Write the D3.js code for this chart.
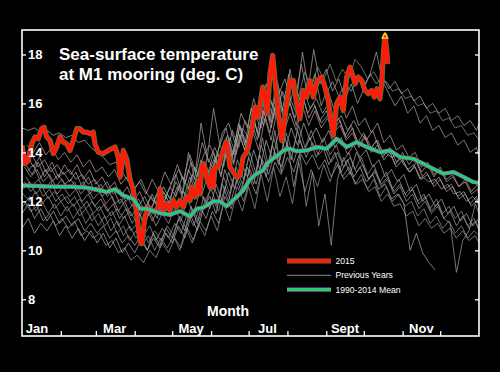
<!doctype html>
<meta charset="utf-8">
<style>
  body { margin: 0; background: #000; }
  svg { display: block; background: #000; font-family: "Liberation Sans", Arial, sans-serif; }
  .frame { fill: none; stroke: #fff; stroke-width: 1.6; }
  .axis path { display: none; }
  .axis line { stroke: #fff; stroke-width: 1.3; }
  .axis text { fill: #fff; font-size: 13px; font-weight: bold; font-family: "Liberation Sans", Arial, sans-serif; }
  .prev { fill: none; stroke-width: 0.75; }
  .title { fill: #fff; font-size: 17px; font-weight: bold; }
  .leg { fill: #fff; font-size: 8.6px; }
</style>

<svg id="chart" width="500" height="372"></svg>

<script src="https://cdn.jsdelivr.net/npm/d3@7"></script>
<script>
// ---- data ----
const yTicks = [8, 10, 12, 14, 16, 18];
const monthStarts = [0, 31, 59, 90, 120, 151, 181, 212, 243, 273, 304, 334];
const monthLabels = ["Jan", "Mar", "May", "Jul", "Sept", "Nov"];
const monthLabelDays = [12, 74, 135, 196, 258, 319];

// 2015 daily-ish trace (day of year, deg C)
const days2015 = [0,2.4,5,7.7,10.4,13,15.7,17.6,19.7,22.4,25,27.7,30.3,33,35.7,38.3,41,43.7,46.3,49,
  51.7,54.3,56.9,58.3,60.9,64.9,68.9,71.6,74.3,76.9,78.3,79.6,80.9,83.6,86.3,88.9,91.6,94.2,95.6,98.2,
  100.9,103.6,106.2,108.9,110.2,111.6,112.9,115.6,118.2,120.8,123.6,126.2,128.8,131.5,134.2,135.5,138.2,140.8,142.2,143.5,
  145.4,147.5,150.2,151.5,152.8,154.1,156.8,158.1,160.8,162.9,164.8,166.1,168.8,171.5,174.1,176.7,179.5,180.7,183.5,186.1,
  188.7,192.2,194.1,195.9,198.1,200.2,202.1,204.7,207.4,208.7,211.4,214,216.7,219.4,222,224.7,227.4,230,232.7,235.8,
  239.4,242,244.6,246.8,248.6,251.3,254,256.6,259.3,262,263.8,266,268.6,271.3,273.9,276.6,279.3,281.4,283.5,285.9,
  287.3,288.6,289.9,291.3,292.1];
const temp2015 = [14.29,13.54,13.67,14.35,14.63,14.56,14.97,15.03,14.63,14.49,13.95,14.22,14.63,14.42,14.35,14.08,14.49,14.97,14.97,14.83,
  14.83,14.76,14.83,14.35,14.01,13.95,14.08,14.15,14.22,13.81,12.99,13.40,14.08,13.74,12.9,12.45,11.5,10.41,10.27,11.36,
  11.77,11.63,11.56,11.77,12.52,12.04,11.63,11.91,11.63,12.04,11.77,12.04,11.77,12.18,12.04,12.58,12.18,12.86,12.31,13.40,
  13.54,12.99,12.58,13.27,12.58,13.40,13.40,13.67,14.08,14.42,13.95,13.40,13.20,12.99,13.06,13.81,14.01,14.22,14.90,15.85,
  15.44,16.67,16.26,15.58,17.21,17.96,16.94,15.58,14.49,14.90,15.99,16.94,16.94,15.99,15.38,16.53,16.26,16.94,16.26,16.94,
  17.08,16.67,16.12,15.31,14.69,15.99,16.26,15.71,17.08,17.48,17.21,16.80,17.08,16.94,16.53,16.40,16.53,16.26,16.60,16.19,
  16.80,18.03,18.78,18.16,17.62];

// 1990-2014 mean
const meanDays = [0,24.8,38.3,51.7,62.3,67.6,74.3,80.9,88.9,94.2,99.6,110.2,118.2,126.2,134.2,139.5,144.8,152.8,158.1,163.5,
  171.5,176.7,182.1,187.4,192.7,195.4,200.7,206.1,208.7,214,219.4,227.4,235.4,243.4,251.3,259.3,267.3,275.3,285.9,293.9,
  301.9,312.5,320.5,328.5,336.5,344.5,352.5,360.5,365];
const meanTemps = [12.65,12.6,12.6,12.56,12.45,12.38,12.5,12.24,12.1,11.7,11.7,11.52,11.45,11.6,11.38,11.7,11.75,12.0,12.0,11.8,
  12.18,12.45,12.9,13.13,13.27,13.54,13.75,13.95,14.08,14.15,14.05,14.08,14.22,14.15,14.56,14.22,14.42,14.22,14.01,14.08,
  13.81,13.74,13.54,13.33,13.13,13.2,13.0,12.79,12.75];

// previous years, one value every 5 days; each year sampled from its own start day
const prevStep = 5;
const prevStart = [0, 2, 4, 1, 3, 0, 2, 4, 1, 3, 0, 2, 4, 1, 3];
const prevYears = [
  [15.0,14.9,15.0,14.8,14.9,14.7,14.8, 14.6,14.7,14.4,14.5,14.2, 14.0,13.8,13.5,13.6,13.2,12.8, 12.5,12.9,12.3,12.0,12.6,12.2,
   12.8,13.3,12.7,13.6,13.0,13.9, 14.3,13.7,14.8,15.2,14.4,15.6, 15.0,16.2,15.4,16.8,15.9,16.4, 17.0,16.1,15.5,16.6,15.8,16.2,
   15.6,16.0,15.2,15.5,14.9,15.3, 14.8,14.5,14.9,14.2,14.0,13.8, 13.9,13.5,13.2,13.6,13.0,12.8, 12.9,12.5,12.7,12.3,12.4,12.0,12.2,11.9],
  [12.0,11.6,11.8,11.2,11.5,11.0,11.3, 10.9,11.2,10.6,10.8,10.5, 10.7,10.2,10.4,9.9,10.1,9.6, 9.8,9.5,10.0,9.7,10.3,9.9,
   10.5,10.1,10.9,10.4,11.2,10.8, 11.6,11.1,12.2,11.7,12.6,12.0, 12.9,12.3,13.4,12.8,13.6,13.1, 13.8,13.2,14.0,13.5,13.9,13.3,
   13.7,13.0,13.5,12.9,13.2,12.7, 12.9,12.4,12.6,12.0,12.3,11.8, 11.9,11.4,11.6,11.0,11.3,10.9, 11.1,10.7,10.9,10.5,10.8,10.4,10.6,10.3],
  [13.2,13.5,12.9,13.3,12.8,13.1,12.7, 12.9,12.5,12.8,12.3,12.6, 12.2,12.5,11.9,12.1,11.6,11.9, 11.4,11.8,11.2,11.7,11.5,12.1,
   11.7,12.4,12.0,12.9,12.3,13.2, 13.8,13.0,14.5,13.6,15.1,14.2, 15.6,14.6,16.3,15.2,16.9,15.5, 17.4,16.0,18.1,16.5,17.2,15.9,
   16.6,15.8,16.3,15.4,15.9,15.1, 15.4,14.8,15.2,14.4,14.7,14.1, 14.3,13.8,14.0,13.4,13.6,13.1, 13.3,12.8,13.0,12.6,12.8,12.3,12.5,12.1],
  [12.5,12.8,12.3,12.6,12.1,12.4,12.0, 12.2,11.8,12.1,11.7,12.0, 11.6,11.9,11.4,11.7,11.3,11.6, 11.2,11.7,11.4,12.0,11.6,12.3,
   12.0,12.7,12.2,13.1,12.6,13.5, 13.1,14.0,13.4,14.6,13.9,15.0, 14.6,15.5,15.0,16.1,15.4,16.6, 16.0,16.9,16.3,17.3,16.6,17.5,
   17.0,17.6,16.9,17.4,17.0,17.8, 17.5,17.0,17.3,16.8,16.9,16.5, 16.6,16.2,16.3,15.9,16.0,15.6, 15.7,15.3,15.4,15.0,15.1,14.7,14.8,14.5],
  [13.6,13.9,13.4,13.7,13.2,13.5,13.1, 13.3,12.9,13.1,12.7,12.9, 12.5,12.8,12.3,12.5,12.0,12.3, 11.8,12.2,11.7,12.3,11.9,12.6,
   12.2,13.0,12.5,13.4,12.8,13.8, 13.3,14.3,13.8,14.9,14.2,15.3, 14.8,15.8,15.1,16.2,15.5,16.5, 15.9,16.7,16.0,16.9,16.2,17.0,
   16.4,16.9,16.3,16.8,16.5,17.0, 16.7,17.2,16.8,17.1,16.6,16.9, 16.4,16.6,16.1,16.3,15.8,16.0, 15.6,15.8,15.3,15.5,15.1,15.3,14.9,15.2],
  [11.5,11.9,11.3,11.7,11.2,11.6,11.1, 11.4,11.0,11.3,10.8,11.1, 10.7,11.0,10.5,10.8,10.3,10.6, 10.2,10.6,10.0,10.5,10.1,10.7,
   10.3,11.0,10.5,11.4,10.8,11.7, 12.2,11.5,12.7,12.0,13.1,12.4, 13.4,12.7,13.9,13.0,14.3,13.5, 14.6,13.7,14.9,14.0,14.6,13.8,
   14.3,13.5,14.0,13.2,13.7,13.0, 13.4,12.8,13.1,12.5,12.7,12.1, 12.3,11.9,10.0,10.7,9.9,9.5, 9.2,null,null,null,null,null,null,null],
  [12.8,12.4,12.7,12.2,12.5,12.0,12.3, 11.9,12.2,11.7,12.0,11.5, 11.8,11.3,11.6,11.0,11.4,10.8, 11.1,10.6,11.0,10.4,10.9,10.5,
   11.1,10.7,11.5,11.0,11.8,11.3, 12.1,11.6,12.6,12.0,13.0,12.4, 13.3,12.7,13.7,13.1,14.0,13.4, 14.3,13.6,14.5,13.8,14.4,13.9,
   14.2,13.6,14.0,13.4,13.8,13.2, 13.5,12.9,13.3,12.7,13.0,12.4, 12.7,12.2,12.5,11.9,12.2,11.6, 11.9,11.3,11.1,9.1,10.4,10.8,11.9,11.5],
  [13.9,13.4,13.8,13.2,13.6,13.0,13.5, 13.1,13.5,12.9,13.3,12.7, 13.0,12.5,12.8,12.2,12.6,12.0, 12.4,11.8,12.3,11.7,12.2,11.9,
   12.6,12.1,13.0,12.4,13.4,12.8, 13.7,13.1,14.2,13.5,14.7,13.9, 14.9,14.1,15.4,14.5,15.8,14.8, 15.6,14.9,15.9,15.1,15.7,15.0,
   15.4,14.8,15.1,14.5,14.8,14.2, 14.6,14.0,14.3,13.7,14.0,13.4, 13.7,13.2,13.4,12.9,13.1,12.6, 12.9,12.4,12.6,12.1,12.3,11.8,12.1,11.7],
  [12.3,12.0,12.4,11.9,12.2,11.7,12.0, 11.6,11.9,11.4,11.7,11.2, 11.5,11.0,11.3,10.7,11.0,10.4, 10.8,10.2,10.6,10.0,10.5,10.1,
   10.6,10.0,10.9,10.3,11.1,10.6, 11.4,10.8,11.9,11.2,12.3,11.6, 12.6,11.7,13.1,12.0,13.4,12.2, 13.0,11.9,13.6,12.4,13.3,12.6,
   13.5,12.8,13.6,13.0,13.4,12.7, 13.1,12.5,12.9,12.2,12.6,12.0, 12.3,11.8,12.0,11.4,11.7,11.1, 11.4,10.9,11.2,10.7,11.0,10.5,10.8,10.6],
  [13.0,12.6,12.9,12.5,12.8,12.3,12.6, 12.2,12.5,12.0,12.3,11.8, 12.1,11.6,11.9,11.3,11.7,11.1, 11.5,11.0,11.8,11.3,12.4,11.9,
   13.1,12.3,14.0,12.9,15.2,13.8, 15.8,14.3,15.0,13.9,14.8,14.1, 15.3,14.5,15.7,14.8,16.1,15.2, 16.2,15.4,16.5,15.6,16.0,15.3,
   15.7,15.0,15.4,14.7,15.1,14.4, 14.8,14.1,14.5,13.8,14.1,13.5, 13.8,13.3,13.5,12.9,13.2,12.7, 13.0,12.5,12.7,12.2,12.4,11.9,12.2,11.8],
  [10.9,11.3,10.7,11.1,10.8,11.2,10.6, 11.0,10.5,10.9,10.4,10.8, 10.3,10.7,10.1,10.5,9.9,10.3, 9.9,10.4,10.0,10.7,10.2,10.9,
   10.5,11.3,10.8,11.8,11.1,12.2, 11.7,12.7,12.0,13.2,12.5,13.6, 13.0,14.1,13.3,14.5,13.7,14.8, 14.1,15.0,14.3,15.2,14.5,15.0,
   14.4,14.9,14.2,14.6,13.9,14.3, 13.8,14.1,13.4,13.7,13.0,13.3, 12.8,13.1,12.4,12.7,12.0,12.3, 11.8,12.1,11.5,11.8,11.2,11.5,11.0,11.3],
  [13.4,13.0,13.3,12.8,13.1,12.6,12.9, 12.5,12.8,12.3,12.6,12.1, 12.4,11.9,12.2,11.6,12.0,11.4, 11.7,11.2,11.6,11.0,11.5,11.1,
   11.7,11.2,12.1,11.5,12.4,11.9, 12.8,12.1,13.3,12.5,13.7,12.9, 14.0,13.1,14.6,13.4,14.9,13.2, 14.4,12.6,13.9,11.8,13.2,11.0,
   12.3,10.2,12.9,13.8,13.1,14.0, 13.5,12.9,13.2,12.6,12.9,12.3, 12.6,12.0,12.3,11.7,12.0,11.5, 11.8,11.3,11.6,11.0,11.4,10.9,11.2,10.8],
  [14.3,14.0,14.4,13.9,14.2,13.7,14.0, 13.6,13.9,13.4,13.7,13.2, 13.4,13.0,13.3,12.7,13.0,12.5, 12.8,12.3,12.9,12.4,13.2,12.7,
   13.5,12.9,13.9,13.2,14.4,13.6, 14.2,13.6,14.7,13.9,15.1,14.4, 15.5,14.7,15.9,15.0,16.3,15.4, 16.0,15.1,16.4,15.4,15.9,15.2,
   15.5,14.9,15.3,14.6,15.0,14.3, 14.7,14.2,14.5,13.9,14.2,13.6, 14.0,13.5,13.8,13.2,13.5,13.0, 13.4,12.9,13.1,12.6,12.9,12.4,12.7,12.3],
  [11.8,12.2,11.6,12.0,11.5,11.9,11.4, 11.8,11.3,11.7,11.1,11.5, 11.0,11.4,10.8,11.2,10.6,11.0, 10.5,10.9,10.3,10.8,10.4,11.0,
   10.6,11.4,10.9,11.7,11.2,12.0, 12.5,11.8,13.0,12.3,13.4,12.7, 13.8,13.0,14.3,13.4,14.6,13.7, 14.8,14.0,15.1,14.2,14.9,14.1,
   14.6,13.9,14.3,13.6,14.0,13.3, 13.8,13.1,13.5,12.8,13.2,12.5, 12.9,12.3,12.6,12.0,12.3,11.7, 12.1,11.5,11.8,11.3,11.6,11.0,11.3,10.9],
  [13.5,13.1,13.6,13.0,13.4,12.9,13.2, 12.8,13.2,12.6,13.0,12.4, 12.7,12.2,12.5,11.9,12.3,11.8, 12.1,11.6,12.2,11.8,12.6,12.1,
   12.8,12.3,13.3,12.7,13.7,13.0, 14.0,13.3,14.6,13.8,15.2,14.3, 15.8,14.8,16.4,15.3,16.8,15.7, 17.2,16.1,17.6,16.4,18.2,16.8,
   17.4,16.5,17.0,16.2,16.8,16.0, 16.6,17.2,18.1,16.9,16.4,15.9, 16.3,15.6,15.9,15.2,15.5,14.9, 15.1,14.6,14.8,14.3,14.5,14.0,14.2,13.8]
];
const prevColors = ["#a6a6a6", "#9a9a9a", "#b59a9a", "#8f8f8f", "#a0a0a0"];

const legendItems = ["2015", "Previous Years", "1990-2014 Mean"];

// ---- drawing ----
const svg = d3.select("#chart");
const x = d3.scaleLinear().domain([0, 365]).range([22, 479]);
const y = d3.scaleLinear().domain([6.5, 19]).range([336, 30]);

svg.append("clipPath").attr("id", "plot")
  .append("rect").attr("x", 22).attr("y", 30).attr("width", 457).attr("height", 306);

const plot = svg.append("g").attr("clip-path", "url(#plot)");

const lineXY = d3.line()
  .defined(d => d[1] != null)
  .x(d => x(d[0]))
  .y(d => y(d[1]));

plot.selectAll("path.prev")
  .data(prevYears)
  .enter().append("path")
  .attr("class", "prev")
  .attr("stroke", (d, i) => prevColors[i % prevColors.length])
  .attr("d", (vals, k) => lineXY(vals.map((v, i) => [Math.min(365, prevStart[k] + i * prevStep), v])));

const pts2015 = days2015.map((d, i) => [d, temp2015[i]]);
const ptsMean = meanDays.map((d, i) => [d, meanTemps[i]]);

// 2015: red with faint green edge
plot.append("path").attr("d", lineXY(pts2015))
  .attr("fill", "none").attr("stroke", "#2f8f45").attr("stroke-width", 5.2).attr("stroke-linejoin", "round");
plot.append("path").attr("d", lineXY(pts2015))
  .attr("fill", "none").attr("stroke", "#ff1a0a").attr("stroke-width", 4).attr("stroke-linejoin", "round");

// mean: green with purple edge
plot.append("path").attr("d", lineXY(ptsMean))
  .attr("fill", "none").attr("stroke", "#b04ac8").attr("stroke-width", 4.2).attr("stroke-linejoin", "round");
plot.append("path").attr("d", lineXY(ptsMean))
  .attr("fill", "none").attr("stroke", "#1fd36a").attr("stroke-width", 3).attr("stroke-linejoin", "round");

// yellow marker at 2015 maximum
const maxI = d3.maxIndex(temp2015);
svg.append("path")
  .attr("d", d3.symbol(d3.symbolTriangle, 14)())
  .attr("transform", `translate(${x(days2015[maxI])},${y(temp2015[maxI]) + 1})`)
  .attr("fill", "none").attr("stroke", "#ffe020").attr("stroke-width", 1.3);

// frame
svg.append("rect").attr("class", "frame")
  .attr("x", 22).attr("y", 30).attr("width", 457).attr("height", 306);

// axes: ticks point inward
svg.append("g").attr("class", "axis")
  .attr("transform", "translate(22,0)")
  .call(d3.axisRight(y).tickValues(yTicks).tickSize(4).tickPadding(2).tickFormat(d3.format("d")));

svg.append("g").attr("class", "axis")
  .attr("transform", "translate(479,0)")
  .call(d3.axisLeft(y).tickValues(yTicks).tickSize(4).tickFormat(""));

svg.append("g").attr("class", "axis")
  .attr("transform", "translate(0,336)")
  .call(d3.axisTop(x).tickValues(monthStarts.slice(1)).tickSize(5).tickFormat(""));

svg.selectAll("text.month")
  .data(monthLabels)
  .enter().append("text")
  .attr("class", "month")
  .attr("x", (d, i) => x(monthLabelDays[i]))
  .attr("y", 333)
  .attr("text-anchor", "middle")
  .attr("fill", "#fff")
  .attr("font-size", 13)
  .attr("font-weight", "bold")
  .text(d => d);

svg.append("text")
  .attr("x", 228).attr("y", 316)
  .attr("text-anchor", "middle")
  .attr("fill", "#fff").attr("font-size", 14).attr("font-weight", "bold")
  .text("Month");

// title
svg.append("text").attr("class", "title").attr("x", 59).attr("y", 60).text("Sea-surface temperature");
svg.append("text").attr("class", "title").attr("x", 59).attr("y", 80).text("at M1 mooring (deg. C)");

// legend
const leg = svg.append("g").attr("transform", "translate(287,261)");
const legRow = leg.selectAll("g")
  .data(legendItems)
  .enter().append("g")
  .attr("transform", (d, i) => `translate(0,${i * 14.3})`);

legRow.each(function(d, i) {
  const g = d3.select(this);
  if (i === 0) {
    g.append("line").attr("x2", 44).attr("stroke", "#2f8f45").attr("stroke-width", 5.2);
    g.append("line").attr("x2", 44).attr("stroke", "#ff1a0a").attr("stroke-width", 4);
  } else if (i === 1) {
    g.append("line").attr("x2", 44).attr("stroke", "#8a8a8a").attr("stroke-width", 1);
  } else {
    g.append("line").attr("x2", 44).attr("stroke", "#b04ac8").attr("stroke-width", 4.2);
    g.append("line").attr("x2", 44).attr("stroke", "#1fd36a").attr("stroke-width", 3);
  }
  g.append("text").attr("class", "leg").attr("x", 48.5).attr("y", 3).text(d);
});
</script>
